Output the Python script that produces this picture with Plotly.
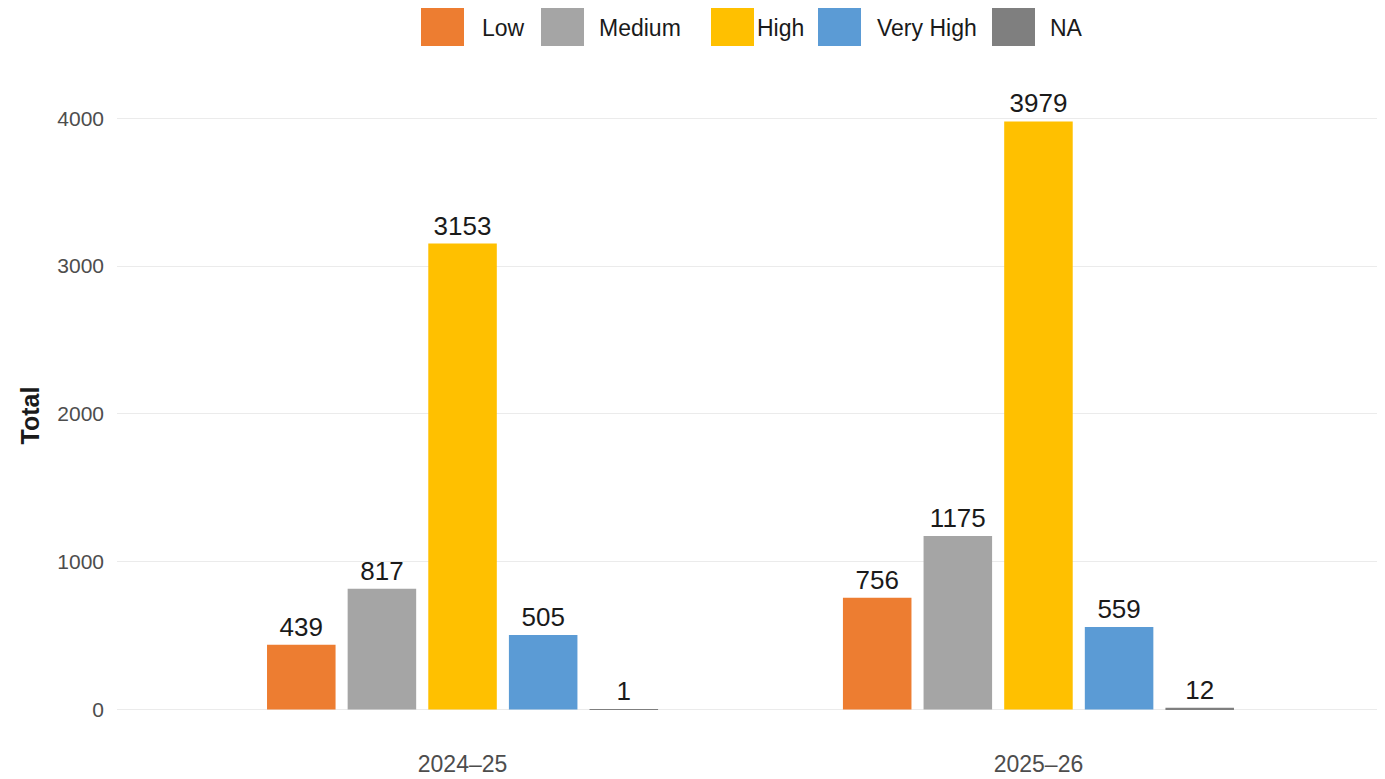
import plotly.graph_objects as go

# ---- data ----
years = ["2024–25", "2025–26"]
categories = ["Low", "Medium", "High", "Very High", "NA"]
low = [439, 756]
medium = [817, 1175]
high = [3153, 3979]
very_high = [505, 559]
na = [1, 12]
series = [low, medium, high, very_high, na]
colors = ["#ED7D31", "#A5A5A5", "#FFC000", "#5B9BD5", "#7F7F7F"]
y_ticks = [0, 1000, 2000, 3000, 4000]

W, H = 1385, 779
OFF = 8  # page body margin offset
L, T = 117 - OFF, 92 - OFF
PW, PH = 1267, 647
R = W - L - PW
B = H - T - PH

fig = go.Figure()
for name, vals, col in zip(categories, series, colors):
    fig.add_trace(go.Bar(
        name=name, x=years, y=vals, marker=dict(color=col, line=dict(width=0)),
        text=[str(v) for v in vals], textposition="outside", constraintext="none",
        textfont=dict(family="Liberation Sans, Arial, sans-serif", size=26, color="#1a1a1a"),
        cliponaxis=False, showlegend=False,
    ))

# custom legend (large square keys like the reference)
def px_x(p):
    return (p - OFF - L) / PW
def px_y(p):
    return (T + PH - (p - OFF)) / PH

swatch_left = [421, 541, 711, 818, 992]
text_left = [480, 597, 755, 875, 1048]
shapes = []
annotations = []
for name, col, sx, tx in zip(categories, colors, swatch_left, text_left):
    shapes.append(dict(type="rect", xref="paper", yref="paper",
                       x0=px_x(sx), x1=px_x(sx + 43), y0=px_y(46), y1=px_y(5),
                       fillcolor=col, line=dict(width=0)))
    annotations.append(dict(xref="paper", yref="paper", x=px_x(tx), y=px_y(28),
                            xanchor="left", yanchor="middle", showarrow=False, text=name,
                            font=dict(family="Liberation Sans, Arial, sans-serif", size=23, color="#1a1a1a")))

fig.update_layout(
    width=W, height=H,
    margin=dict(l=L, r=R, t=T, b=B, autoexpand=False),
    plot_bgcolor="white", paper_bgcolor="white",
    barmode="group", bargap=0.3, bargroupgap=0.15,
    font=dict(family="Liberation Sans, Arial, sans-serif"),
    shapes=shapes, annotations=annotations,
    showlegend=False,
)
fig.update_xaxes(
    showgrid=False, zeroline=False, showline=False, ticks="",
    tickfont=dict(size=23, color="#4D4D4D"), automargin=False,
    range=[-0.6, 1.6], ticklabelstandoff=9,
)
fig.update_yaxes(
    range=[-199, 4178], tickvals=y_ticks, ticktext=[str(v) for v in y_ticks],
    showgrid=True, gridcolor="#EBEBEB", gridwidth=1.3, zeroline=False, showline=False, ticks="",
    tickfont=dict(size=21, color="#4D4D4D"), automargin=False, ticklabelstandoff=12,
    title=dict(text="<b>Total</b>", font=dict(size=25, color="#1a1a1a"), standoff=10),
)

fig.write_html("out.html")
